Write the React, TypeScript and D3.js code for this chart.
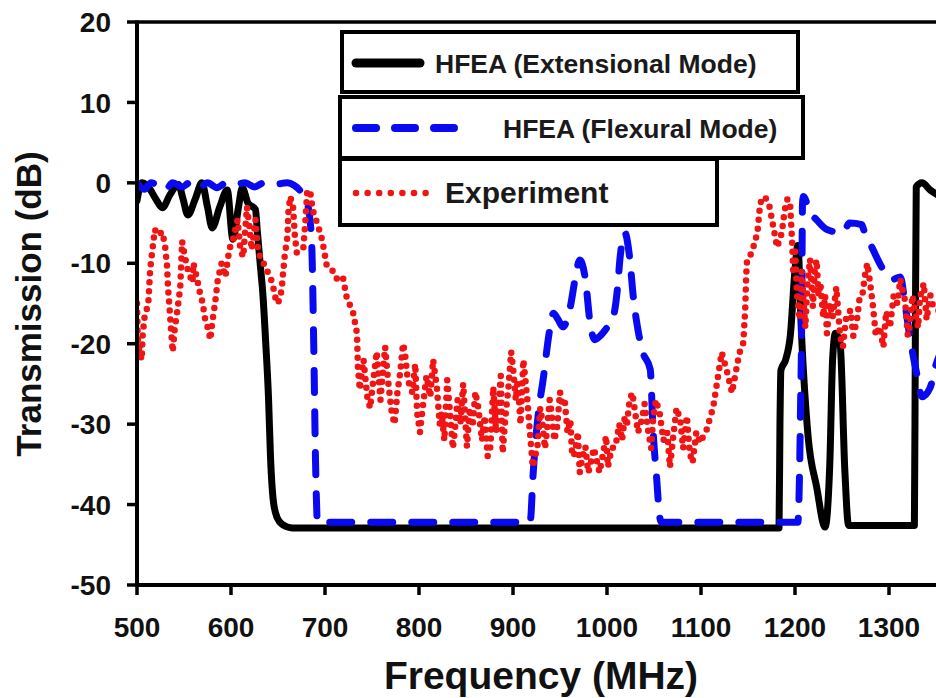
import React from "react";
import * as d3 from "d3";

// Transmission spectra: frequency (MHz) vs transmission (dB)
const extensionalFreq = [500, 505, 512, 520, 527, 535, 544, 549, 554, 562, 569, 575, 580, 588, 596, 602, 608, 612, 618, 626, 628, 631, 634, 637, 640, 642, 645, 649, 655, 665, 1183, 1184, 1185, 1190, 1195, 1200, 1203, 1207, 1214, 1223, 1232, 1237, 1240, 1243, 1248, 1253, 1257, 1327, 1328, 1329, 1335, 1344, 1360];
const extensionalDb = [-2.2, 0, -0.5, -2, -3.1, -1.5, -0.2, -2, -4, -2, 0, -3, -5.6, -3, -0.9, -7, -3, -0.6, -2.5, -3.3, -6, -10, -14, -20, -27, -34, -39.5, -41.6, -42.5, -42.9, -42.9, -30, -23.3, -22, -19, -10.8, -7.8, -19, -31.6, -37.8, -42.8, -35, -22, -18.7, -20, -35.7, -42.6, -42.6, -20, -0.5, 0, -0.9, -2];

const flexuralFreq = [500, 508, 515, 522, 530, 538, 548, 556, 565, 575, 585, 595, 605, 615, 625, 635, 645, 660, 667, 673, 681, 684, 686, 688, 690, 692, 700, 918, 919, 921, 927, 932, 939, 943, 948, 953, 961, 966, 971, 977, 982, 987, 993, 1000, 1006, 1011, 1014, 1019, 1024, 1028, 1033, 1038, 1046, 1049, 1053, 1056, 1058, 1203, 1205, 1206, 1207, 1208, 1209, 1216, 1223, 1234, 1251, 1258, 1271, 1273, 1283, 1294, 1304, 1312, 1317, 1322, 1330, 1335, 1344, 1349, 1360];
const flexuralDb = [0, -0.8, 0, -0.3, -0.9, 0, -0.5, 0, -0.7, 0, -0.6, 0, -0.2, 0, -0.5, 0, -0.2, 0, -0.3, -0.9, -2.5, -4.6, -8, -20, -35, -42.2, -42.2, -42.2, -41.5, -37, -28.6, -24.5, -18.3, -16.2, -17, -17.9, -15.4, -12, -9.6, -12, -17.4, -19.5, -19, -18, -17, -13.3, -9.2, -6.2, -9.2, -14.2, -18.3, -21, -23.2, -30.7, -37, -41.5, -42.2, -42.2, -35, -27, -19, -2.5, -1.7, -3.7, -4.6, -5.8, -6.2, -5, -5.2, -5.8, -8.3, -10.8, -12, -11.7, -15, -19, -24, -26.6, -25.4, -23, -20];

const experimentFreq = [
  500, 501, 505, 506, 508, 512, 514, 516, 519, 522, 527, 530, 532, 533, 535, 537, 538, 540, 543, 546,
  548, 551, 554, 559, 560, 564, 567, 570, 572, 576, 578, 580, 583, 586, 590, 594, 597, 599, 602, 607,
  610, 613, 617, 620, 622, 626, 629, 633, 638, 644, 647, 650, 654, 655, 657, 660, 661, 663, 666, 668,
  670, 677, 679, 681, 684, 687, 693, 697, 702, 709, 713, 719, 723, 730, 734, 735,
  737, 741, 745, 748, 751, 755, 759, 762, 764, 767, 771, 774, 777, 780, 783, 785, 788, 793, 796, 798,
  801, 804, 808, 812, 815, 819, 822, 824, 827, 830, 833, 836, 838, 841, 844, 847, 851, 854, 857, 860,
  863, 867, 870, 873, 876, 879, 882, 884, 887, 889, 892, 895, 898, 900, 903, 905, 908, 911, 915, 918, 921,
  926, 929, 931, 934, 936, 939, 941, 944, 947, 950, 952, 955, 958, 961, 963, 966, 969, 971, 974, 977,
  980, 982, 986, 989, 992, 996, 999, 1001, 1005, 1009, 1013, 1016, 1019, 1021, 1024, 1027, 1030, 1033, 1037, 1040,
  1044, 1047, 1049, 1052, 1056, 1060, 1064, 1067, 1071, 1074, 1078, 1081, 1085, 1088, 1091, 1095, 1099,
  1106, 1113, 1117, 1122, 1128, 1133, 1138, 1141, 1145, 1147, 1148, 1149, 1154, 1160, 1163, 1168, 1173, 1177, 1181, 1186,
  1189, 1192, 1195, 1197, 1198, 1200, 1202, 1205, 1207, 1209, 1211, 1213, 1216, 1219, 1221, 1223, 1225, 1227, 1230, 1232,
  1234, 1237, 1240, 1244, 1248, 1251, 1254, 1259, 1262, 1266, 1269, 1272, 1275, 1277, 1280, 1283, 1286, 1290, 1294, 1297,
  1301, 1305, 1309, 1312, 1317, 1320, 1322, 1325, 1328, 1331, 1333, 1337, 1340, 1344, 1347, 1354,
];
const experimentDb = [
  -15, -20, -22, -19, -16.7, -15, -10.8, -8.7, -5.8, -6.5, -6.1, -8, -10.4, -13, -16.2, -19.5, -21, -18.3, -15.8, -13,
  -7.3, -9.2, -10.8, -12.4, -10, -12, -13.7, -15, -16.7, -18.3, -19.5, -17.4, -15, -12, -10, -11.7, -9.2, -8, -7.1, -4.6,
  -8.3, -9.2, -3, -5.8, -8.3, -4.6, -8.7, -9.6, -10.8, -12.4, -14.2, -15, -13.3, -11.7, -9.2, -6.7, -3.7, -1.7, -3, -6.7,
  -8.7, -8, -5, -1.2, -0.9, -3.4, -5.5, -7.1, -10.4, -11, -12, -11.7, -14.2, -16.2, -18.7, -22.9,
  -25.7, -22, -26.6, -28, -24.9, -21, -27, -23, -20.4, -24.5, -28.6, -30, -26.1, -23.6, -20, -21.1, -24.5, -26.1, -22.5, -28.6,
  -31, -27.9, -24, -26.6, -22, -25.4, -30, -28.6, -32, -24.5, -28.6, -33, -31, -27, -30, -25, -32.8, -28, -30.3, -26,
  -27.9, -32, -29, -34, -32.8, -25.4, -31, -28.6, -24, -33.6, -29, -25.7, -21, -22.9, -27, -24.5, -30, -22, -26.6, -31, -35.3,
  -32.8, -28, -29.5, -33, -31, -27, -28.6, -32, -30.3, -26, -27.4, -27, -31, -29.5, -34, -33.6, -31, -36, -34, -32.8,
  -36, -35.3, -33, -34.5, -36, -33.6, -31.5, -35.3, -33, -32.8, -30, -32, -29, -30.3, -27, -26.1, -28.6, -31, -29.5, -27.5,
  -31, -33, -29.5, -27, -28.6, -32, -31, -35.3, -31, -28, -29.5, -33, -29, -33.6, -34.8, -31, -32.3,
  -30.7, -27.9, -24.9, -21.1, -23.6, -26.1, -22.9, -21.1, -19.9, -15.8, -11.7, -9.6, -8.7, -6.2, -2.5, -1.7, -3, -5.5, -8, -6.2,
  -3.4, -2, -3, -7.5, -10.8, -8, -13.7, -17, -11, -14.6, -18, -12.9, -9.5, -15.4, -11, -9.6, -14, -12.5, -16.7, -14,
  -18.7, -15, -16.7, -13, -19.1, -20.4, -17, -15.8, -19, -17, -14, -13.7, -11, -10, -12.5, -15.4, -19, -17.9, -20.4, -16,
  -18, -14, -15, -12, -14.6, -19, -17.9, -14, -16.2, -18, -14.2, -12.5, -17, -14, -15.4, -16,
];

const xTicks = [500, 600, 700, 800, 900, 1000, 1100, 1200, 1300];
const yTicks = [20, 10, 0, -10, -20, -30, -40, -50];

const legendLabels = ["HFEA (Extensional Mode)", "HFEA (Flexural Mode)", "Experiment"];

const W = 936;
const H = 698;
const FONT = "'Liberation Sans', Arial, Helvetica, sans-serif";

function zip(a: number[], b: number[]): [number, number][] {
  const n = Math.min(a.length, b.length);
  const out: [number, number][] = [];
  for (let i = 0; i < n; i++) out.push([a[i], b[i]]);
  return out;
}

export default function App() {
  const x = d3.scaleLinear().domain([500, 1400]).range([137, 983]);
  const y = d3.scaleLinear().domain([-50, 20]).range([585, 22]);

  const smooth = d3
    .line<[number, number]>()
    .x((d) => x(d[0]))
    .y((d) => y(d[1]))
    .curve(d3.curveMonotoneX);
  const straight = d3
    .line<[number, number]>()
    .x((d) => x(d[0]))
    .y((d) => y(d[1]));

  const ext = zip(extensionalFreq, extensionalDb);
  const flex = zip(flexuralFreq, flexuralDb);
  const expt = zip(experimentFreq, experimentDb);

  const x0 = x(500);
  const yTop = y(20);
  const yBot = y(-50);

  return (
    <div style={{ position: "absolute", left: 0, top: 0 }}>
      <svg width={W} height={H} style={{ display: "block", background: "#fff" }} fontFamily={FONT}>
        <defs>
          <clipPath id="plotClip">
            <rect x={x0} y={yTop} width={x(1400) - x0} height={yBot - yTop} />
          </clipPath>
        </defs>

        {/* curves */}
        <g clipPath="url(#plotClip)" fill="none">
          <path d={smooth(ext) || ""} stroke="#000" strokeWidth={7} strokeLinejoin="round" strokeLinecap="round" />
          <path d={smooth(flex) || ""} stroke="#0a0af0" strokeWidth={7} strokeDasharray="22 19" strokeLinecap="round" strokeLinejoin="round" />
          <path d={straight(expt) || ""} stroke="#f01414" strokeWidth={6.5} strokeDasharray="0 9" strokeLinecap="round" strokeLinejoin="round" />
        </g>

        {/* frame */}
        <line x1={x0} x2={W + 10} y1={yTop} y2={yTop} stroke="#000" strokeWidth={3.5} />
        <line x1={x0} x2={W + 10} y1={yBot} y2={yBot} stroke="#000" strokeWidth={4} />
        <line x1={x0} x2={x0} y1={yTop - 1.5} y2={yBot + 2} stroke="#000" strokeWidth={4} />

        {/* y axis ticks */}
        {yTicks.map((t) => (
          <g key={"y" + t}>
            <line x1={x0 - 10} x2={x0} y1={y(t)} y2={y(t)} stroke="#000" strokeWidth={3.5} />
            <text x={111} y={y(t)} dy="0.36em" textAnchor="end" fontSize={28} fontWeight="bold" fill="#111">
              {t}
            </text>
          </g>
        ))}

        {/* x axis ticks */}
        {xTicks.map((t) => (
          <g key={"x" + t}>
            <line x1={x(t)} x2={x(t)} y1={yBot} y2={yBot + 10} stroke="#000" strokeWidth={3.5} />
            <text x={x(t)} y={637} textAnchor="middle" fontSize={28} fontWeight="bold" fill="#111">
              {t}
            </text>
          </g>
        ))}

        {/* axis titles */}
        <text x={541} y={689} textAnchor="middle" fontSize={39} fontWeight="bold" fill="#111">
          Frequency (MHz)
        </text>
        <text transform="translate(41,304) rotate(-90)" textAnchor="middle" fontSize={35} fontWeight="bold" fill="#111">
          Transmission (dB)
        </text>

        {/* legend */}
        <g>
          <rect x={342} y={32} width={456} height={60} fill="#fff" stroke="#000" strokeWidth={4} />
          <line x1={356} x2={420} y1={63} y2={63} stroke="#000" strokeWidth={9} strokeLinecap="round" />
          <text x={435} y={73} fontSize={26.5} fontWeight="bold" fill="#1a1a1a">
            {legendLabels[0]}
          </text>

          <rect x={340} y={97} width={463} height={61} fill="#fff" stroke="#000" strokeWidth={4} />
          <line x1={356} x2={458} y1={128} y2={128} stroke="#0a0af0" strokeWidth={8} strokeDasharray="20 19" strokeLinecap="round" />
          <text x={503} y={138} fontSize={26.5} fontWeight="bold" fill="#1a1a1a">
            {legendLabels[1]}
          </text>

          <rect x={340} y={159} width={377} height={66} fill="#fff" stroke="#000" strokeWidth={4} />
          <line x1={356} x2={426} y1={193} y2={193} stroke="#f01414" strokeWidth={6.5} strokeDasharray="0 11.6" strokeLinecap="round" />
          <text x={445} y={203} fontSize={30} fontWeight="bold" fill="#1a1a1a">
            {legendLabels[2]}
          </text>
        </g>
      </svg>
    </div>
  );
}
